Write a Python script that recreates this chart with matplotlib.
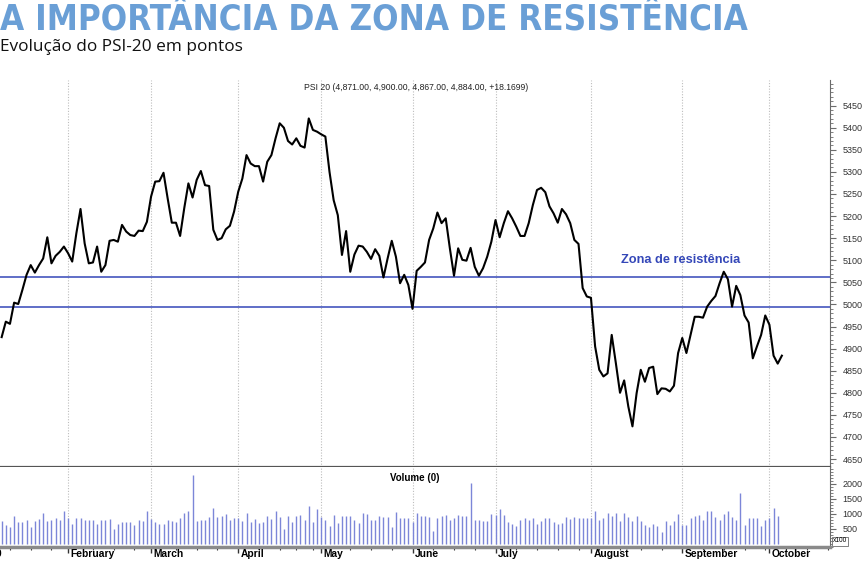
import numpy as np
import pandas as pd
import matplotlib
matplotlib.use("Agg")
import matplotlib.pyplot as plt
from matplotlib.ticker import MultipleLocator, FixedLocator, NullFormatter
from matplotlib.transforms import blended_transform_factory

# PSI-20 daily closes, 10 Jan 2019 -> 4 Oct 2019
close = [
    4926, 4961, 4956, 5004, 5001, 5033, 5067, 5089, 5072, 5089,
    5104, 5152, 5093, 5110, 5119, 5131, 5116, 5097, 5161, 5216,
    5138, 5093, 5095, 5131, 5074, 5089, 5144, 5146, 5142, 5180,
    5165, 5157, 5155, 5167, 5166, 5187, 5244, 5278, 5279, 5298,
    5240, 5185, 5185, 5155, 5218, 5274, 5242, 5282, 5302, 5270,
    5268, 5169, 5146, 5150, 5170, 5178, 5210, 5255, 5285, 5338,
    5319, 5313, 5313, 5278, 5323, 5338, 5376, 5410, 5400, 5370,
    5362, 5376, 5359, 5355, 5421, 5395, 5391, 5385, 5380, 5300,
    5236, 5202, 5112, 5166, 5074, 5113, 5133, 5131, 5119, 5103,
    5125, 5110, 5061, 5104, 5144, 5108, 5048, 5067, 5044, 4990,
    5076, 5085, 5095, 5146, 5172, 5208, 5184, 5195, 5127, 5065,
    5127, 5101, 5099, 5128, 5085, 5065, 5082, 5108, 5142, 5191,
    5152, 5184, 5211, 5195, 5176, 5155, 5155, 5184, 5225, 5259,
    5264, 5254, 5222, 5206, 5185, 5216, 5204, 5184, 5146, 5137,
    5037, 5018, 5015, 4905, 4852, 4837, 4844, 4931, 4867, 4800,
    4828, 4769, 4724, 4799, 4852, 4825, 4856, 4859, 4797, 4810,
    4809, 4803, 4816, 4890, 4924, 4890, 4931, 4972, 4972, 4970,
    4995, 5008, 5019, 5048, 5074, 5057, 4995, 5042, 5021, 4975,
    4959, 4878, 4905, 4931, 4975, 4954, 4884, 4866, 4884,
]

# daily volume (x100)
volume = [
    744, 633, 544, 933, 711, 722, 800, 555, 744, 822,
    1022, 744, 800, 855, 800, 1111, 855, 666, 855, 855,
    777, 777, 777, 666, 777, 800, 822, 489, 666, 711,
    722, 711, 611, 800, 744, 1089, 833, 722, 655, 655,
    777, 744, 722, 855, 1022, 1078, 2300, 766, 777, 777,
    889, 1189, 889, 911, 1000, 800, 855, 855, 744, 1044,
    722, 833, 689, 711, 933, 822, 1111, 889, 500, 944,
    722, 933, 966, 800, 1278, 722, 1167, 878, 800, 600,
    966, 689, 933, 933, 933, 800, 689, 1022, 989, 777,
    800, 911, 889, 889, 544, 1067, 855, 850, 844, 722,
    1022, 944, 911, 889, 433, 855, 911, 966, 800, 855,
    966, 911, 911, 2044, 800, 800, 744, 744, 1000, 966,
    1155, 966, 711, 666, 600, 777, 855, 777, 855, 666,
    744, 855, 855, 722, 666, 689, 889, 822, 889, 855,
    855, 855, 855, 1078, 777, 855, 1022, 933, 1022, 744,
    1022, 889, 744, 944, 744, 633, 555, 666, 578, 378,
    744, 611, 744, 1000, 633, 611, 855, 944, 966, 800,
    1078, 1078, 889, 800, 1000, 1111, 889, 777, 1689, 633,
    855, 855, 855, 600, 800, 855, 1189, 911,
]

zone_top = 5062
zone_bottom = 4995
header = "PSI 20 (4,871.00, 4,900.00, 4,867.00, 4,884.00, +18.1699)"
month_names = ["2019", "February", "March", "April", "May", "June",
               "July", "August", "September", "October"]

# trading calendar (Euronext Lisbon holidays removed), index = trading day
holidays = pd.to_datetime(["2019-01-01", "2019-04-19", "2019-04-22", "2019-05-01"])
cal = pd.bdate_range("2019-01-02", "2019-10-25")
cal = cal[~cal.isin(holidays)]
start = cal.get_loc(pd.Timestamp("2019-01-10"))
pos = np.arange(len(cal)) - start          # 0 = first plotted day
month_start = [pos[0]] + [pos[k] for k in range(1, len(cal)) if cal[k].month != cal[k - 1].month]
week_start = [pos[k] for k in range(1, len(cal)) if cal[k].weekday() < cal[k - 1].weekday()]

W, H = 864, 561
fig = plt.figure(figsize=(W / 100, H / 100), dpi=100)
blue = "#3447b8"
grey = "#6b6b6b"
sans = ["Liberation Sans", "DejaVu Sans"]

ax = fig.add_axes([0, 1 - 467 / H, 830 / W, (467 - 80) / H])
axv = fig.add_axes([0, 1 - 547 / H, 830 / W, (547 - 467) / H], sharex=ax)

x = np.arange(len(close))
ax.plot(x, close, color="black", lw=1.5, zorder=3)
ax.axhline(zone_top, color=blue, lw=1.1, zorder=2)
ax.axhline(zone_bottom, color=blue, lw=1.1, zorder=2)
ax.text(163.5, 5100, "Zona de resistência", color=blue, fontsize=9.2, fontweight="bold",
        family=sans, ha="center", va="center")

ax.set_xlim(-0.4, 199.6)
ax.set_ylim(4632, 5508)
for m in month_start[1:]:
    ax.axvline(m, color="#bdbdbd", lw=0.8, ls=(0, (1, 1.5)), zorder=1)
    axv.axvline(m, color="#bdbdbd", lw=0.8, ls=(0, (1, 1.5)), zorder=1)

ax.yaxis.tick_right()
ax.yaxis.set_major_locator(FixedLocator(np.arange(4650, 5451, 50)))
ax.yaxis.set_minor_locator(MultipleLocator(10))
ax.tick_params(axis="y", which="major", length=4, color=grey, pad=5, labelsize=6.5,
               labelcolor="#333333")
ax.tick_params(axis="y", which="minor", length=2, color=grey)
ax.tick_params(axis="x", which="both", bottom=False, labelbottom=False)
for lab in ax.get_yticklabels():
    lab.set_family(sans)
for s in ["top", "left"]:
    ax.spines[s].set_visible(False)
ax.spines["right"].set_color(grey)
ax.spines["bottom"].set_color("#555555")
ax.spines["bottom"].set_linewidth(1.6)

# volume panel
axv.vlines(np.arange(len(volume)), 0, volume, color="#7c86d8", lw=1.0)
axv.set_ylim(-110, 2567)
axv.yaxis.tick_right()
axv.yaxis.set_major_locator(FixedLocator([500, 1000, 1500, 2000]))
axv.yaxis.set_minor_locator(MultipleLocator(100))
axv.tick_params(axis="y", which="major", length=4, color=grey, pad=5, labelsize=6.5,
                labelcolor="#333333")
axv.tick_params(axis="y", which="minor", length=2, color=grey)
for lab in axv.get_yticklabels():
    lab.set_family(sans)
axv.spines["top"].set_visible(False)
axv.spines["left"].set_visible(False)
axv.spines["right"].set_color(grey)
axv.spines["bottom"].set_color("#8a8a8a")
axv.spines["bottom"].set_linewidth(2.5)
axv.xaxis.set_major_locator(FixedLocator(month_start))
axv.xaxis.set_minor_locator(FixedLocator(week_start))
axv.xaxis.set_major_formatter(NullFormatter())
axv.tick_params(axis="x", which="major", length=4, color="#333333", width=1)
axv.tick_params(axis="x", which="minor", length=2.5, color="#333333", width=0.8)
axv.text(0.5, 0.93, "Volume (0)", transform=axv.transAxes, ha="center", va="top",
         fontsize=7, fontweight="bold", family=sans)
fig.text(833 / W, 1 - 541 / H, "x100", fontsize=4.8, family=sans, va="center",
         bbox=dict(boxstyle="square,pad=0.15", fc="white", ec=grey, lw=0.6))

# month labels sit just right of their tick, under the volume panel
lab_tr = blended_transform_factory(axv.transData, fig.transFigure)
for m, name in zip(month_start, month_names):
    axv.text(m + 0.6, 1 - 549 / H, name, transform=lab_tr, ha="left", va="top",
             fontsize=7.4, fontweight="bold", family=sans, clip_on=False)

# titles
title = fig.text(0, 1 - 20 / H, "A IMPORTÂNCIA DA ZONA DE RESISTÊNCIA", color="#6a9fd6",
                 fontsize=28, fontweight="heavy", family="DejaVu Sans", fontstretch="condensed",
                 va="center", ha="left")
fig.text(0, 1 - 47 / H, "Evolução do PSI-20 em pontos", color="#111111", fontsize=12.4,
         family=["Open Sans", "DejaVu Sans"], va="center", ha="left")
fig.text(416 / W, 1 - 87 / H, header, fontsize=6.2, family=sans, ha="center", va="center",
         color="#222222")

# fit the headline to its width in the reference (~750 px)
r = fig.canvas.get_renderer()
wpx = title.get_window_extent(r).width
title.set_fontsize(28 * 750 / wpx)

fig.savefig("out.png", dpi=100)
